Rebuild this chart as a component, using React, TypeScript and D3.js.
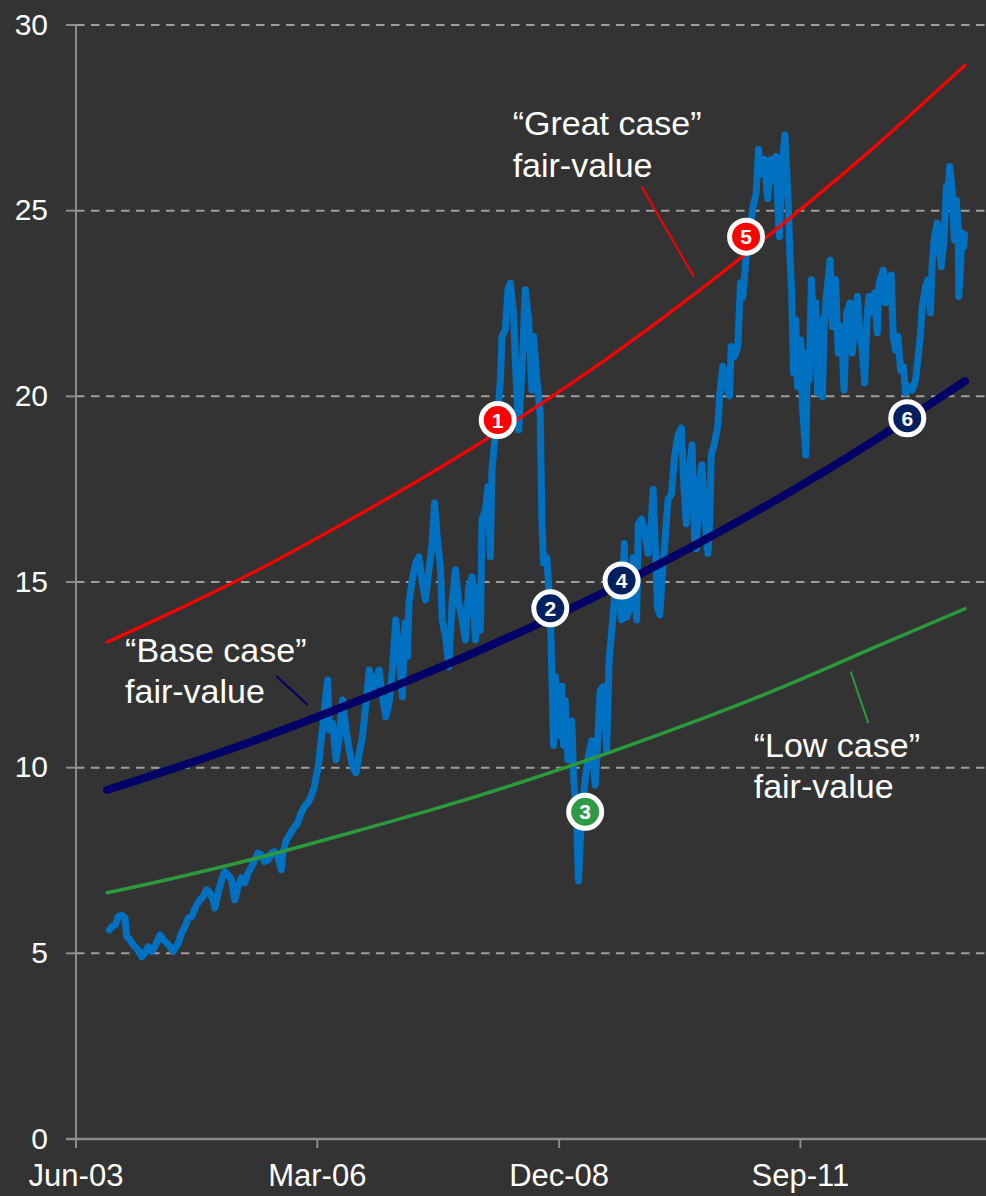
import React from "react";
import * as d3 from "d3";

// Share price, sampled as decimal years
const priceYears = [
  2003.795, 2003.822, 2003.859, 2003.897, 2003.935, 2003.973, 2003.992, 2004.029, 2004.067, 2004.124,
  2004.162, 2004.200, 2004.237, 2004.276, 2004.313, 2004.370, 2004.407, 2004.446, 2004.483, 2004.521,
  2004.578, 2004.616, 2004.654, 2004.691, 2004.730, 2004.786, 2004.824, 2004.861, 2004.900, 2004.937,
  2004.975, 2004.994, 2005.032, 2005.070, 2005.108, 2005.145, 2005.184, 2005.221, 2005.258, 2005.297,
  2005.335, 2005.372, 2005.411, 2005.448, 2005.485, 2005.524, 2005.561, 2005.599, 2005.638, 2005.675,
  2005.712, 2005.751, 2005.769, 2005.808, 2005.845, 2005.902, 2005.939, 2005.978, 2006.015, 2006.053,
  2006.091, 2006.129, 2006.148, 2006.166, 2006.186, 2006.205, 2006.223, 2006.242, 2006.262, 2006.280,
  2006.299, 2006.337, 2006.375, 2006.413, 2006.450, 2006.489, 2006.526, 2006.564, 2006.602, 2006.640,
  2006.677, 2006.716, 2006.753, 2006.790, 2006.829, 2006.866, 2006.904, 2006.943, 2006.980, 2007.017,
  2007.056, 2007.093, 2007.131, 2007.162, 2007.188, 2007.207, 2007.244, 2007.283, 2007.320, 2007.358,
  2007.396, 2007.434, 2007.471, 2007.499, 2007.528, 2007.567, 2007.585, 2007.623, 2007.661, 2007.698,
  2007.737, 2007.774, 2007.812, 2007.850, 2007.888, 2007.925, 2007.964, 2008.001, 2008.021, 2008.039,
  2008.077, 2008.107, 2008.134, 2008.152, 2008.191, 2008.228, 2008.248, 2008.266, 2008.304, 2008.334,
  2008.361, 2008.398, 2008.418, 2008.455, 2008.493, 2008.531, 2008.569, 2008.606, 2008.625, 2008.663,
  2008.701, 2008.720, 2008.739, 2008.776, 2008.815, 2008.833, 2008.852, 2008.872, 2008.909, 2008.947,
  2008.966, 2008.985, 2009.015, 2009.042, 2009.060, 2009.079, 2009.099, 2009.117, 2009.136, 2009.155,
  2009.174, 2009.212, 2009.250, 2009.287, 2009.326, 2009.355, 2009.382, 2009.420, 2009.457, 2009.484,
  2009.514, 2009.553, 2009.590, 2009.627, 2009.658, 2009.684, 2009.723, 2009.760, 2009.798, 2009.817,
  2009.854, 2009.893, 2009.930, 2009.968, 2009.987, 2010.013, 2010.036, 2010.063, 2010.089, 2010.120,
  2010.157, 2010.195, 2010.233, 2010.271, 2010.308, 2010.336, 2010.365, 2010.404, 2010.430, 2010.460,
  2010.479, 2010.517, 2010.543, 2010.574, 2010.611, 2010.631, 2010.649, 2010.687, 2010.725, 2010.744,
  2010.782, 2010.819, 2010.858, 2010.876, 2010.914, 2010.952, 2010.982, 2011.009, 2011.046, 2011.085,
  2011.122, 2011.160, 2011.187, 2011.216, 2011.255, 2011.292, 2011.330,
  2011.349, 2011.386, 2011.406, 2011.425, 2011.451, 2011.489, 2011.519, 2011.550, 2011.565, 2011.587,
  2011.613, 2011.633, 2011.670, 2011.689, 2011.727, 2011.746, 2011.765, 2011.791, 2011.814, 2011.840,
  2011.860, 2011.890, 2011.916, 2011.936, 2011.965, 2012.004, 2012.030, 2012.067, 2012.095, 2012.132,
  2012.163, 2012.192, 2012.231, 2012.257, 2012.283, 2012.314, 2012.344, 2012.370, 2012.396, 2012.427,
  2012.446, 2012.484, 2012.510, 2012.540, 2012.560, 2012.609, 2012.635, 2012.673, 2012.699, 2012.722,
  2012.748, 2012.775, 2012.805, 2012.836, 2012.862, 2012.900, 2012.938, 2012.975, 2013.002, 2013.032,
  2013.051, 2013.089, 2013.116, 2013.145, 2013.165, 2013.191, 2013.221, 2013.247, 2013.267, 2013.297,
  2013.327, 2013.343, 2013.365, 2013.392, 2013.418, 2013.440, 2013.460, 2013.468, 2013.486, 2013.505,
  2013.524, 2013.534,
];

const priceValues = [
  5.63, 5.72, 5.76, 5.99, 6.03, 5.95, 5.45, 5.36, 5.22, 5.09,
  4.91, 5.01, 5.18, 5.05, 5.18, 5.50, 5.36, 5.28, 5.18, 5.05,
  5.28, 5.55, 5.72, 5.95, 5.99, 6.30, 6.44, 6.53, 6.71, 6.63,
  6.44, 6.22, 6.63, 6.98, 7.20, 7.11, 6.98, 6.44, 6.80, 7.03,
  6.90, 7.16, 7.33, 7.51, 7.70, 7.65, 7.47, 7.51, 7.70, 7.74,
  7.60, 7.25, 7.70, 8.05, 8.19, 8.41, 8.51, 8.78, 8.95, 9.05,
  9.22, 9.49, 9.76, 9.94, 10.30, 10.75, 11.10, 11.55, 12.01, 12.36,
  11.02, 11.20, 10.21, 10.84, 11.82, 11.02, 10.48, 10.03, 9.86, 10.40,
  10.84, 11.74, 12.63, 12.09, 12.36, 12.63, 11.91, 11.37, 11.74, 12.63,
  13.98, 13.09, 11.91, 13.90, 12.99, 14.44, 15.06, 15.51, 15.68, 14.97,
  14.52, 15.33, 16.05, 17.13, 16.22, 15.33, 13.98, 13.53, 12.72, 14.44,
  15.33, 14.44, 13.98, 13.44, 14.88, 15.14, 13.44, 14.88, 13.71, 16.67,
  16.94, 17.57, 15.68, 18.02, 19.01, 19.82, 20.44, 21.61, 21.79, 22.87,
  23.05, 22.25, 20.90, 19.10, 20.71, 22.87, 22.06, 20.17, 21.61, 20.44,
  19.47, 16.56, 15.51, 15.65, 14.18, 12.45, 10.60, 12.45, 10.86, 12.19,
  10.60, 11.80, 10.21, 11.12, 11.26, 9.80, 9.13, 8.35, 6.95, 7.95,
  8.86, 9.67, 10.34, 10.73, 9.53, 10.73, 12.07, 12.19, 10.46, 12.85,
  13.66, 14.71, 14.97, 13.98, 16.04, 14.05, 14.31, 15.65, 13.98, 16.56,
  16.70, 16.29, 15.77, 16.70, 17.49, 15.90, 14.31, 14.11, 15.11, 16.04,
  17.23, 17.36, 18.42, 18.95, 19.15, 17.63, 16.56, 18.15, 18.69, 16.17,
  15.90, 17.76, 18.16, 16.83, 15.77, 16.56, 18.42, 18.75, 19.22, 20.01,
  20.81, 20.28, 20.01, 21.34, 21.07, 21.34, 23.06, 22.67, 23.73, 24.39,
  25.06, 25.45, 26.65, 25.99, 26.38, 25.32, 26.38,
  25.83, 26.46, 25.29, 24.30, 26.10, 27.04, 25.65, 23.59, 22.87, 20.63,
  22.06, 20.26, 21.52, 19.72, 18.42, 21.17, 20.44, 23.14, 21.88, 22.52,
  20.09, 22.06, 19.99, 21.88, 22.79, 23.67, 21.88, 23.14, 21.17, 21.88,
  20.17, 22.25, 22.52, 21.17, 22.06, 22.69, 21.61, 21.25, 20.36, 22.25,
  22.69, 22.25, 22.79, 21.71, 23.05, 23.40, 22.52, 22.87, 23.27, 21.61,
  21.25, 21.61, 20.71, 20.80, 20.09, 20.26, 20.17, 20.44, 20.98, 21.71,
  22.42, 22.95, 23.14, 22.25, 23.59, 24.30, 24.67, 24.03, 23.49, 24.13,
  25.65, 25.48, 26.19, 25.56, 24.21, 25.29, 24.57, 22.69, 23.40, 24.40,
  24.03, 24.35,
];

// Fair-value scenarios
const fairYears = [2003.768, 2004.5, 2005.5, 2006.5, 2007.5, 2008.5, 2009.5, 2010.5, 2011.5, 2012.5, 2013.539];
const greatCase = [13.38, 14.18, 15.34, 16.63, 17.99, 19.47, 21.08, 22.83, 24.71, 26.70, 28.92];
const baseCase = [9.40, 9.96, 10.78, 11.68, 12.64, 13.68, 14.81, 16.04, 17.36, 18.80, 20.41];
const lowCase = [6.63, 7.01, 7.58, 8.22, 8.89, 9.62, 10.42, 11.28, 12.21, 13.23, 14.28];

// Numbered call-outs
const markerLabels = ["1", "2", "3", "4", "5", "6"];
const markerYears = [2008.217, 2008.815, 2009.212, 2009.627, 2011.046, 2012.881];
const markerValues = [19.36, 14.29, 8.81, 15.04, 24.30, 19.41];
const markerKinds = ["great", "base", "low", "base", "great", "base"];

// Axis ticks
const yTicks = [0, 5, 10, 15, 20, 25, 30];
const xTickDates = ["2003-06-01", "2006-03-01", "2008-12-01", "2011-09-01"];
const xDomain = ["2003-06-01", "2013-10-12"];

const COLORS = {
  bg: "#333333",
  price: "#0070C0",
  great: "#FF0000",
  base: "#000066",
  baseMarker: "#002060",
  low: "#2A9A3C",
  lowMarker: "#2E9A45",
  axis: "#8C8C8C",
  grid: "#9E9E9E",
  text: "#FFFFFF",
};

const FONT = "'Liberation Sans', Arial, Helvetica, sans-serif";

const parseDay = (s: string) => {
  const [yy, mm, dd] = s.split("-").map(Number);
  return new Date(yy, mm - 1, dd);
};

const fromYear = (v: number) => {
  const yr = Math.floor(v);
  const a = new Date(yr, 0, 1).getTime();
  const b = new Date(yr + 1, 0, 1).getTime();
  return new Date(a + (v - yr) * (b - a));
};

export default function App() {
  const W = 986;
  const H = 1196;
  const left = 76;
  const right = 986;
  const top = 25;
  const bottom = 1139;

  const x = d3.scaleTime().domain(xDomain.map(parseDay)).range([left, right]);
  const y = d3.scaleLinear().domain([0, 30]).range([bottom, top]);
  const fmt = d3.timeFormat("%b-%y");

  const pricePts: [number, number][] = d3
    .range(Math.min(priceYears.length, priceValues.length))
    .map((i) => [x(fromYear(priceYears[i])), y(priceValues[i])]);
  const priceLine = d3.line().curve(d3.curveLinear)(pricePts) || "";

  const fairLine = (vals: number[]) =>
    d3.line().curve(d3.curveNatural)(fairYears.map((t, i) => [x(fromYear(t)), y(vals[i])] as [number, number])) || "";

  const px = (t: number) => x(fromYear(t));

  const markerFill = (k: string) =>
    k === "great" ? COLORS.great : k === "low" ? COLORS.lowMarker : COLORS.baseMarker;

  const labelStyle = { fontFamily: FONT, fontSize: 34, fill: COLORS.text } as const;

  return (
    <svg
      width={W}
      height={H}
      viewBox={`0 0 ${W} ${H}`}
      style={{ position: "absolute", left: 0, top: 0, display: "block" }}
    >
      <rect x={0} y={0} width={W} height={H} fill={COLORS.bg} />

      {/* gridlines */}
      {yTicks
        .filter((v) => v > 0)
        .map((v) => (
          <line
            key={`g${v}`}
            x1={left}
            x2={right}
            y1={y(v)}
            y2={y(v)}
            stroke={COLORS.grid}
            strokeWidth={2}
            strokeDasharray="8.5 6.5"
          />
        ))}

      {/* y axis */}
      <line x1={left} x2={left} y1={top} y2={bottom + 9} stroke={COLORS.axis} strokeWidth={2} />
      {yTicks.map((v) => (
        <g key={`yt${v}`}>
          <line x1={left - 10} x2={left} y1={y(v)} y2={y(v)} stroke={COLORS.axis} strokeWidth={2} />
          <text
            x={48}
            y={y(v) + 9.5}
            textAnchor="end"
            style={{ fontFamily: FONT, fontSize: 30, fill: COLORS.text }}
          >
            {v}
          </text>
        </g>
      ))}

      {/* x axis */}
      <line x1={left - 10} x2={right} y1={bottom} y2={bottom} stroke={COLORS.axis} strokeWidth={2.5} />
      {xTickDates.map(parseDay).map((d, i) => (
        <g key={`xt${i}`}>
          <line x1={x(d)} x2={x(d)} y1={bottom} y2={bottom + 9} stroke={COLORS.axis} strokeWidth={2} />
          <text
            x={x(d)}
            y={1186}
            textAnchor="middle"
            style={{ fontFamily: FONT, fontSize: 31, fill: COLORS.text }}
          >
            {fmt(d)}
          </text>
        </g>
      ))}

      {/* share price */}
      <path
        d={priceLine}
        fill="none"
        stroke={COLORS.price}
        strokeWidth={7}
        strokeLinejoin="round"
        strokeLinecap="round"
      />

      {/* fair-value curves */}
      <path d={fairLine(lowCase)} fill="none" stroke={COLORS.low} strokeWidth={3.5} strokeLinecap="round" />
      <path d={fairLine(greatCase)} fill="none" stroke={COLORS.great} strokeWidth={3.2} strokeLinecap="round" />
      <path d={fairLine(baseCase)} fill="none" stroke={COLORS.base} strokeWidth={8} strokeLinecap="round" />

      {/* annotations */}
      <line x1={px(2009.854)} y1={y(25.65)} x2={px(2010.452)} y2={y(23.22)} stroke={COLORS.great} strokeWidth={2} />
      <line x1={px(2005.694)} y1={y(12.47)} x2={px(2006.053)} y2={y(11.69)} stroke={COLORS.base} strokeWidth={2} />
      <line x1={px(2012.238)} y1={y(12.59)} x2={px(2012.438)} y2={y(11.2)} stroke={COLORS.low} strokeWidth={2} />

      <text x={px(2008.387)} y={y(27.04)} style={labelStyle}>
        <tspan>“Great case”</tspan>
        <tspan x={px(2008.387)} dy={42}>fair-value</tspan>
      </text>
      <text x={px(2003.973)} y={y(12.85)} style={labelStyle}>
        <tspan>“Base case”</tspan>
        <tspan x={px(2003.973)} dy={41}>fair-value</tspan>
      </text>
      <text x={px(2011.133)} y={y(10.29)} style={labelStyle}>
        <tspan>“Low case”</tspan>
        <tspan x={px(2011.133)} dy={41}>fair-value</tspan>
      </text>

      {/* numbered markers */}
      {markerLabels.map((lab, i) => {
        const cx = px(markerYears[i]);
        const cy = y(markerValues[i]);
        return (
          <g key={`m${lab}`}>
            <circle cx={cx} cy={cy} r={16.5} fill={markerFill(markerKinds[i])} stroke="#FFFFFF" strokeWidth={5} />
            <text
              x={cx}
              y={cy + 7.5}
              textAnchor="middle"
              style={{ fontFamily: FONT, fontSize: 21, fontWeight: 700, fill: "#FFFFFF" }}
            >
              {lab}
            </text>
          </g>
        );
      })}
    </svg>
  );
}
